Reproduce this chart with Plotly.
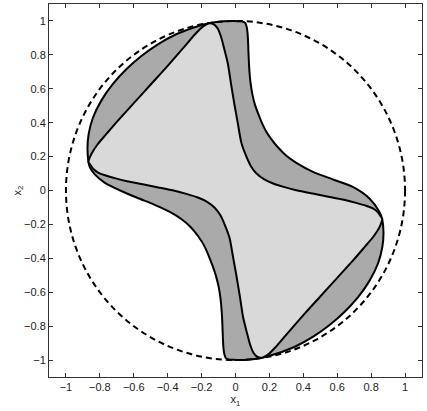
import plotly.graph_objects as go

# outer (dark) region boundary, traced from the left vertex going clockwise
outer_x = [-0.867, -0.873, -0.866, -0.841, -0.790, -0.723, -0.644, -0.555, -0.458, -0.353,
           -0.240, -0.156, -0.070, 0.000, 0.040, 0.058, 0.066, 0.071, 0.074, 0.077,
           0.081, 0.088, 0.099, 0.115, 0.135, 0.155, 0.180, 0.210, 0.250, 0.300,
           0.359, 0.457, 0.575, 0.692, 0.790, 0.849, 0.865,
           0.873, 0.866, 0.841, 0.790, 0.723, 0.644, 0.555, 0.458, 0.353,
           0.240, 0.156, 0.070, 0.000, -0.040, -0.058, -0.066, -0.071, -0.074, -0.077,
           -0.081, -0.088, -0.099, -0.115, -0.135, -0.158, -0.185, -0.220, -0.265, -0.320,
           -0.390, -0.480, -0.580, -0.680, -0.770, -0.830, -0.858, -0.867]
outer_y = [0.168, 0.250, 0.333, 0.429, 0.533, 0.629, 0.715, 0.793, 0.862, 0.920,
           0.963, 0.986, 0.998, 0.999, 0.997, 0.987, 0.965, 0.930, 0.880, 0.800,
           0.720, 0.640, 0.570, 0.505, 0.450, 0.400, 0.350, 0.305, 0.255, 0.205,
           0.163, 0.110, 0.065, 0.021, -0.047, -0.126, -0.168,
           -0.250, -0.333, -0.429, -0.533, -0.629, -0.715, -0.793, -0.862, -0.920,
           -0.963, -0.986, -0.998, -0.999, -0.997, -0.987, -0.965, -0.930, -0.880, -0.800,
           -0.720, -0.640, -0.570, -0.505, -0.445, -0.385, -0.325, -0.270, -0.215, -0.168,
           -0.125, -0.083, -0.043, 0.000, 0.045, 0.095, 0.135, 0.168]

# inner (light) region boundary, from the left vertex to the top tip and round
inner_x = [-0.867, -0.850, -0.815, -0.760, -0.700, -0.600, -0.500, -0.400, -0.300, -0.240,
           -0.195, -0.154, -0.125, -0.105, -0.085, -0.065, -0.045, -0.025, -0.005, 0.014,
           0.035, 0.065, 0.090, 0.124, 0.170, 0.222, 0.290, 0.359, 0.455, 0.555,
           0.640, 0.712, 0.770, 0.810, 0.840, 0.858, 0.865,
           0.850, 0.815, 0.760, 0.700, 0.600, 0.500, 0.400, 0.300, 0.240,
           0.195, 0.154, 0.125, 0.105, 0.085, 0.065, 0.045, 0.025, 0.005, -0.014,
           -0.035, -0.065, -0.090, -0.124, -0.170, -0.222, -0.290, -0.359, -0.455, -0.555,
           -0.640, -0.712, -0.770, -0.810, -0.840, -0.858, -0.867]
inner_y = [0.168, 0.215, 0.270, 0.335, 0.405, 0.515, 0.625, 0.735, 0.850, 0.920,
           0.965, 0.987, 0.978, 0.955, 0.905, 0.830, 0.748, 0.620, 0.500, 0.395,
           0.280, 0.198, 0.145, 0.100, 0.065, 0.041, 0.020, 0.002, -0.018, -0.038,
           -0.055, -0.073, -0.090, -0.106, -0.128, -0.155, -0.168,
           -0.215, -0.270, -0.335, -0.405, -0.515, -0.625, -0.735, -0.850, -0.920,
           -0.965, -0.987, -0.978, -0.955, -0.905, -0.830, -0.748, -0.620, -0.500, -0.395,
           -0.280, -0.198, -0.145, -0.100, -0.065, -0.041, -0.020, -0.002, 0.018, 0.038,
           0.055, 0.073, 0.090, 0.106, 0.128, 0.155, 0.168]

circle_r = 1.0
tick_vals = [-1, -0.8, -0.6, -0.4, -0.2, 0, 0.2, 0.4, 0.6, 0.8, 1]

fig = go.Figure()

fig.add_trace(go.Scatter(x=outer_x, y=outer_y, mode="lines", fill="toself",
                         fillcolor="#aaaaaa",
                         line=dict(color="black", width=2, shape="spline", smoothing=0.7),
                         hoverinfo="skip"))

fig.add_trace(go.Scatter(x=inner_x, y=inner_y, mode="lines", fill="toself",
                         fillcolor="#d9d9d9",
                         line=dict(color="black", width=2, shape="spline", smoothing=0.7),
                         hoverinfo="skip"))

fig.add_shape(type="circle", xref="x", yref="y",
              x0=-circle_r, y0=-circle_r, x1=circle_r, y1=circle_r,
              line=dict(color="black", width=2, dash="6px,4px"))

font = dict(family="Liberation Sans", size=11, color="#222")
axis_style = dict(range=[-1.1, 1.1], tickvals=tick_vals, ticks="inside", ticklen=4,
                  tickcolor="#333", showline=True, linecolor="#333", linewidth=1,
                  mirror="ticks", showgrid=False, zeroline=False, automargin=False,
                  tickfont=font)

fig.update_xaxes(**axis_style, title=dict(text="x<sub>1</sub>", standoff=0, font=font))
fig.update_yaxes(**axis_style, title=dict(text="x<sub>2</sub>", standoff=0, font=font))

fig.update_layout(width=427, height=411, showlegend=False,
                  plot_bgcolor="white", paper_bgcolor="white",
                  margin=dict(l=49, r=5, t=4, b=34))

# the page body has a default 8px margin; drop it so the figure sits at the corner
fig.write_html("out.html", config={"displayModeBar": False},
               post_script="document.body.style.margin='0';document.body.style.overflow='hidden';")
